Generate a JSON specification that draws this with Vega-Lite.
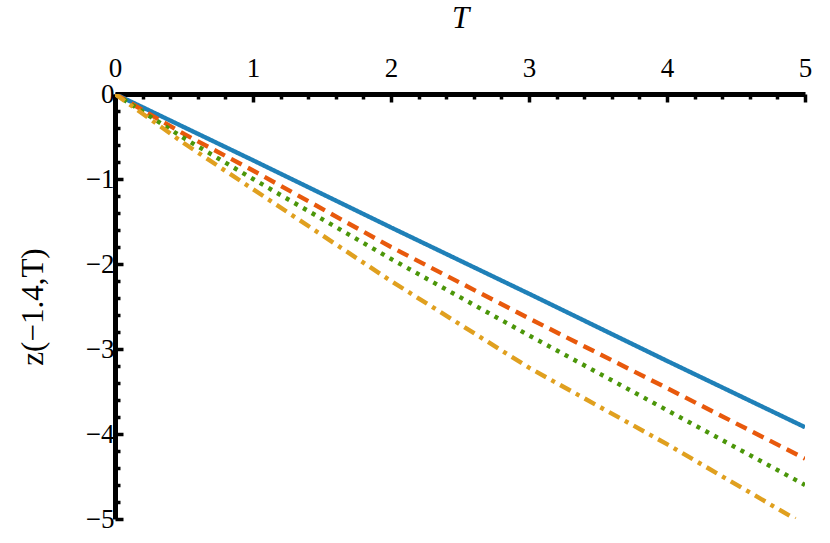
{
  "$schema": "https://vega.github.io/schema/vega-lite/v6.json",
  "autosize": "none",
  "width": 690,
  "height": 425,
  "padding": {"left": 115, "top": 94, "right": 25, "bottom": 24},
  "config": {
    "view": {"stroke": null},
    "background": "white",
    "font": "Liberation Serif",
    "style": {"guide-label": {"fontSize": 27, "font": "Liberation Serif"}, "guide-title": {"fontSize": 31, "font": "Liberation Serif"}},
    "axis": {
      "labelFont": "Liberation Serif", "labelFontSize": 27, "labelColor": "black",
      "titleFont": "Liberation Serif", "titleFontSize": 31, "titleFontWeight": "normal", "titleColor": "black",
      "domainColor": "black", "domainWidth": 5, "tickColor": "black", "tickWidth": 3.5, "grid": false,
      "labelOverlap": false, "labelFlush": false
    }
  },
  "data": {"values": [
    {"T": 0, "z": 0, "s": "a"}, {"T": 0.5, "z": -0.39, "s": "a"}, {"T": 1, "z": -0.78, "s": "a"}, {"T": 2, "z": -1.57, "s": "a"}, {"T": 3, "z": -2.35, "s": "a"}, {"T": 4, "z": -3.14, "s": "a"}, {"T": 5, "z": -3.92, "s": "a"},
    {"T": 0, "z": 0, "s": "b"}, {"T": 0.5, "z": -0.47, "s": "b"}, {"T": 1, "z": -0.9, "s": "b"}, {"T": 2, "z": -1.8, "s": "b"}, {"T": 3, "z": -2.64, "s": "b"}, {"T": 4, "z": -3.46, "s": "b"}, {"T": 5, "z": -4.29, "s": "b"},
    {"T": 0, "z": 0, "s": "c"}, {"T": 0.5, "z": -0.52, "s": "c"}, {"T": 1, "z": -1.0, "s": "c"}, {"T": 2, "z": -1.94, "s": "c"}, {"T": 3, "z": -2.84, "s": "c"}, {"T": 4, "z": -3.72, "s": "c"}, {"T": 5, "z": -4.6, "s": "c"},
    {"T": 0, "z": 0, "s": "d"}, {"T": 0.5, "z": -0.58, "s": "d"}, {"T": 1, "z": -1.12, "s": "d"}, {"T": 2, "z": -2.2, "s": "d"}, {"T": 3, "z": -3.22, "s": "d"}, {"T": 4, "z": -4.12, "s": "d"}, {"T": 4.93, "z": -5.0, "s": "d"}
  ]},
  "mark": {"type": "line", "strokeWidth": 4.4, "strokeCap": "butt", "clip": true},
  "encoding": {
    "x": {"field": "T", "type": "quantitative",
      "scale": {"domain": [0, 5], "nice": false},
      "axis": {
        "orient": "top",
        "values": [0,0.2,0.4,0.6,0.8,1,1.2,1.4,1.6,1.8,2,2.2,2.4,2.6,2.8,3,3.2,3.4,3.6,3.8,4,4.2,4.4,4.6,4.8,5],
        "labelExpr": "datum.value % 1 === 0 ? format(datum.value, 'd') : ''",
        "tickSize": {"condition": {"test": "datum.value % 1 === 0", "value": -8}, "value": -5},
        "labelPadding": 20,
        "labelFontSize": 27,
        "title": "T", "titleFontStyle": "italic", "titlePadding": 17
      }
    },
    "y": {"field": "z", "type": "quantitative",
      "scale": {"domain": [-5, 0], "nice": false},
      "axis": {
        "orient": "left",
        "values": [-5,-4.8,-4.6,-4.4,-4.2,-4,-3.8,-3.6,-3.4,-3.2,-3,-2.8,-2.6,-2.4,-2.2,-2,-1.8,-1.6,-1.4,-1.2,-1,-0.8,-0.6,-0.4,-0.2,0],
        "labelExpr": "datum.value % 1 === 0 ? format(datum.value, 'd') : ''",
        "tickSize": {"condition": {"test": "datum.value % 1 === 0", "value": -8}, "value": -5},
        "labelPadding": 9,
        "labelFontSize": 27,
        "title": "z(−1.4,T)", "titlePadding": 36
      }
    },
    "color": {"field": "s", "type": "nominal", "legend": null,
      "scale": {"domain": ["a", "b", "c", "d"], "range": ["#1f80b8", "#e8590c", "#4b9609", "#e0a01f"]}},
    "strokeDash": {"field": "s", "type": "nominal", "legend": null,
      "scale": {"domain": ["a", "b", "c", "d"], "range": [[1, 0], [12, 7], [4, 6], [12, 6, 4, 6]]}}
  }
}
